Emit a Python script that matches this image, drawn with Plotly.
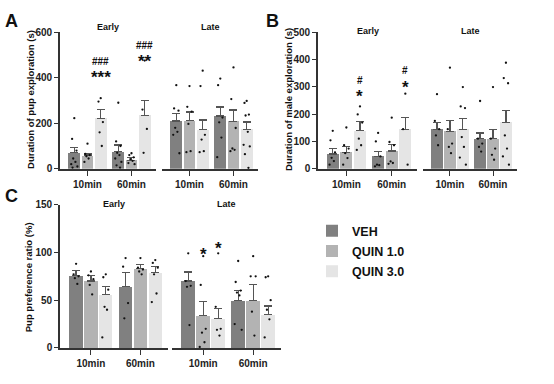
import plotly.graph_objects as go

W, H = 554, 384

TREATMENTS = ["VEH", "QUIN 1.0", "QUIN 3.0"]
TIMES = ["10min", "60min"]
PHASES = ["Early", "Late"]
COLORS = ["#808080", "#b3b3b3", "#e5e5e5"]

# ---- Panel A: Duration of pup exploration (s) ----
A_EARLY_MEAN = [[70, 75], [57, 36], [221, 235]]
A_EARLY_ERR = [[24, 29], [8, 14], [40, 65]]
A_LATE_MEAN = [[210, 232], [211, 207], [171, 174]]
A_LATE_ERR = [[32, 39], [38, 51], [43, 31]]
A_EARLY_PTS = [
    [[222, 131, 80, 45, 30, 20, 10, 5], [290, 120, 100, 70, 60, 45, 30, 15, 5]],
    [[110, 65, 60, 55, 45, 30], [68, 60, 50, 42, 35, 25, 20]],
    [[310, 295, 205, 160, 100], [475, 260, 175, 70]],
]
A_LATE_PTS = [
    [[367, 265, 255, 180, 162, 149, 68], [396, 367, 225, 204, 137, 51]],
    [[363, 272, 251, 197, 77, 73], [445, 306, 179, 89, 83, 77]],
    [[431, 363, 149, 128, 77, 73], [298, 289, 238, 234, 162, 105, 98, 64, 4]],
]

# ---- Panel B: Duration of male exploration (s) ----
B_EARLY_MEAN = [[54, 45], [59, 65], [139, 145]]
B_EARLY_ERR = [[20, 18], [21, 24], [34, 42]]
B_LATE_MEAN = [[145, 110], [136, 110], [145, 169]]
B_LATE_ERR = [[24, 21], [42, 35], [38, 45]]
B_EARLY_PTS = [
    [[139, 104, 60, 40, 28, 15], [131, 100, 45, 15, 13, 9]],
    [[151, 86, 74, 57, 39, 15], [187, 98, 86, 27, 21, 18]],
    [[228, 199, 169, 110, 86, 69], [275, 145, 15]],
]
B_LATE_PTS = [
    [[273, 175, 145, 122, 86], [248, 110, 92, 80, 63]],
    [[370, 145, 92, 80, 57], [299, 110, 74, 51, 33]],
    [[299, 228, 222, 116, 80, 41, 15], [388, 332, 313, 122, 74, 45, 15]],
]

# ---- Panel C: Pup preference ratio (%) ----
C_EARLY_MEAN = [[76, 64], [70, 83], [56, 79]]
C_EARLY_ERR = [[5, 15], [5.5, 4], [8, 6]]
C_LATE_MEAN = [[70, 50], [34, 49.5], [30.5, 35]]
C_LATE_ERR = [[9.5, 10], [15, 16.5], [11, 9]]
C_EARLY_PTS = [
    [[88, 77, 75, 73, 67], [94, 85, 47, 31]],
    [[80, 76, 72, 66, 56], [94, 84, 82, 80, 77]],
    [[77, 74, 61, 43, 40, 11], [92, 89, 84, 77, 57, 48]],
]
C_LATE_PTS = [
    [[99, 70, 65, 64, 24], [91, 69, 60, 58, 55, 25, 19]],
    [[96, 66, 20, 16, 6, 1], [96, 75, 75, 38, 13]],
    [[99, 43, 20, 19, 13], [75, 74, 50, 40, 30, 11]],
]

Y_TICKS_A = [0, 200, 400, 600]
Y_TICKS_B = [0, 100, 200, 300, 400, 500]
Y_TICKS_C = [0, 50, 100, 150]

FONT = "Liberation Sans, Arial, sans-serif"
AXC = "#333333"

OFFSETS = [-0.3, 0.0, 0.3]
BAR_W = 0.27
JITTER = [0.0, -0.05, 0.05, -0.025, 0.025, -0.07, 0.07, -0.04, 0.04]
XRANGE = [-0.625, 1.557]


def px_x(p):
    return p / W


def px_y(p):
    return 1 - p / H


fig = go.Figure()

panels = [
    ("A", (A_EARLY_MEAN, A_EARLY_ERR, A_EARLY_PTS), (A_LATE_MEAN, A_LATE_ERR, A_LATE_PTS), ("x", "x2"), "y"),
    ("B", (B_EARLY_MEAN, B_EARLY_ERR, B_EARLY_PTS), (B_LATE_MEAN, B_LATE_ERR, B_LATE_PTS), ("x3", "x4"), "y2"),
    ("C", (C_EARLY_MEAN, C_EARLY_ERR, C_EARLY_PTS), (C_LATE_MEAN, C_LATE_ERR, C_LATE_PTS), ("x5", "x6"), "y3"),
]

for pi, (name, early, late, xaxes, yax) in enumerate(panels):
    for phase_i, (means, errs, pts) in enumerate([early, late]):
        xa = xaxes[phase_i]
        for j, tr in enumerate(TREATMENTS):
            xs = [t + OFFSETS[j] for t in range(len(TIMES))]
            fig.add_trace(go.Bar(
                x=xs, y=means[j], width=BAR_W,
                marker=dict(color=COLORS[j], line=dict(width=0)),
                error_y=dict(type="data", symmetric=False, array=errs[j],
                             arrayminus=[0] * len(TIMES), color="#555555",
                             thickness=1.2, width=4),
                name=tr, legendgroup=tr,
                showlegend=(pi == 0 and phase_i == 0),
                xaxis=xa, yaxis=yax, hoverinfo="skip",
            ))
        for j, tr in enumerate(TREATMENTS):
            px_, py_ = [], []
            for t in range(len(TIMES)):
                for k, v in enumerate(pts[j][t]):
                    px_.append(t + OFFSETS[j] + JITTER[k % len(JITTER)])
                    py_.append(v)
            fig.add_trace(go.Scatter(
                x=px_, y=py_, mode="markers",
                marker=dict(color="#111111", size=2.3),
                showlegend=False, xaxis=xa, yaxis=yax, hoverinfo="skip",
                cliponaxis=False,
            ))

tickfont = dict(family=FONT, size=10, color="#222222", weight="bold")


def xaxis_cfg(d0, d1, anchor):
    return dict(domain=[px_x(d0), px_x(d1)], range=XRANGE, anchor=anchor,
                tickvals=[0, 1], ticktext=TIMES, showline=True, linecolor=AXC,
                linewidth=1.6, ticks="outside", ticklen=5, tickwidth=1.3,
                tickcolor=AXC, showgrid=False, zeroline=False, tickfont=tickfont,
                fixedrange=True)


def yaxis_cfg(top, bottom, rng, ticks, anchor):
    return dict(domain=[px_y(bottom), px_y(top)], range=rng, anchor=anchor,
                tickvals=ticks, showline=True, linecolor=AXC, linewidth=1.6,
                ticks="outside", ticklen=4, tickwidth=1.3, tickcolor=AXC,
                showgrid=False, zeroline=False, tickfont=tickfont, fixedrange=True)


fig.update_layout(
    width=W, height=H, margin=dict(l=0, r=0, t=0, b=0),
    paper_bgcolor="white", plot_bgcolor="rgba(0,0,0,0)",
    barmode="overlay", bargap=0,
    font=dict(family=FONT, color="#111111"),
    xaxis=xaxis_cfg(60, 156, "y"),
    xaxis2=xaxis_cfg(162, 258, "y"),
    xaxis3=xaxis_cfg(318, 417, "y2"),
    xaxis4=xaxis_cfg(423, 517, "y2"),
    xaxis5=xaxis_cfg(60, 168, "y3"),
    xaxis6=xaxis_cfg(172, 281, "y3"),
    yaxis=yaxis_cfg(27, 168, [0, 600], Y_TICKS_A, "x"),
    yaxis2=yaxis_cfg(27, 168, [0, 500], Y_TICKS_B, "x3"),
    yaxis3=yaxis_cfg(205, 353, [0, 150], Y_TICKS_C, "x5"),
    legend=dict(x=px_x(312), y=px_y(217), xanchor="left", yanchor="top",
                font=dict(family=FONT, size=12.5, color="#111111", weight="bold"),
                bgcolor="rgba(0,0,0,0)", tracegroupgap=1, itemsizing="constant"),
)

ann = []


def add_paper_text(text, x, y, size, angle=0):
    ann.append(dict(text=text, x=px_x(x), y=px_y(y), xref="paper", yref="paper",
                    xanchor="center", yanchor="middle", textangle=angle,
                    showarrow=False,
                    font=dict(family=FONT, size=size, weight="bold", color="#111")))


# panel letters
for letter, x, y in [("A", 11, 16), ("B", 272, 16), ("C", 11, 196)]:
    add_paper_text(letter, x, y, 18)

# phase titles
for xa, y in [("x", 22), ("x2", 22), ("x3", 26), ("x4", 26), ("x5", 204), ("x6", 204)]:
    ph = PHASES[0] if xa in ("x", "x3", "x5") else PHASES[1]
    ann.append(dict(text=ph, x=0.5, y=px_y(y), xref=xa + " domain", yref="paper",
                    xanchor="center", yanchor="middle", showarrow=False,
                    font=dict(family=FONT, size=9, weight="bold", color="#111")))

# y titles
for txt, x, y in [("Duration of pup exploration (s)", 31, 97),
                  ("Duration of male exploration (s)", 289, 97),
                  ("Pup preference ratio (%)", 28, 280)]:
    add_paper_text(txt, x, y, 9.5, angle=-90)

# significance marks: (xaxis, yaxis, time idx, treatment idx, text, y value, size)
SIG = [
    ("x", "y", 0, 2, "###", 471, 10), ("x", "y", 0, 2, "***", 403, 17),
    ("x", "y", 1, 2, "###", 543, 10), ("x", "y", 1, 2, "**", 472, 17),
    ("x3", "y2", 0, 2, "#", 324, 10), ("x3", "y2", 0, 2, "*", 266, 17),
    ("x3", "y2", 1, 2, "#", 360, 10), ("x3", "y2", 1, 2, "*", 299, 17),
    ("x6", "y3", 0, 1, "*", 98, 17), ("x6", "y3", 0, 2, "*", 104, 17),
]
for xa, ya, t, j, txt, yv, sz in SIG:
    ann.append(dict(text=txt, x=t + OFFSETS[j], y=yv, xref=xa, yref=ya, showarrow=False,
                    xanchor="center", yanchor="middle",
                    font=dict(family=FONT, size=sz, weight="bold", color="#111")))

fig.update_layout(annotations=ann)
fig.write_html("out.html", config={"displayModeBar": False},
               post_script="document.body.style.margin='0';")
